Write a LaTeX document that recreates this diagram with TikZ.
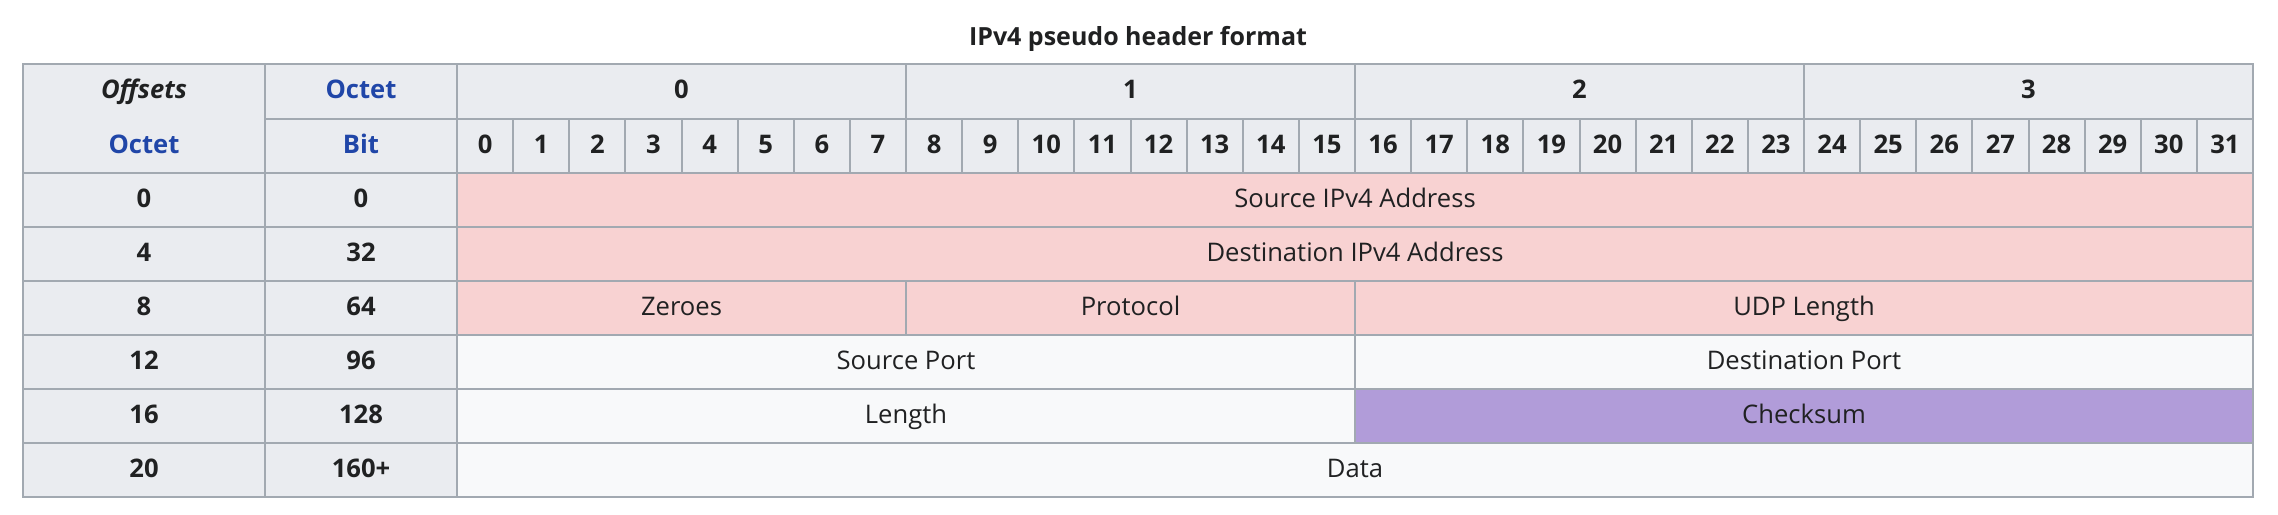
\documentclass[tikz,border=0pt]{standalone}
\usepackage{fontspec}
\setmainfont{Open Sans}
\usepackage{tikz}

\definecolor{hdrbg}{HTML}{EAECF0}
\definecolor{tableline}{HTML}{A2A9B1}
\definecolor{pinkbg}{HTML}{F8D2D2}
\definecolor{purplebg}{HTML}{B19CD9}
\definecolor{plainbg}{HTML}{F8F9FA}
\definecolor{linkblue}{HTML}{2046A8}
\definecolor{textdark}{HTML}{202122}

\tikzset{
    cellbox/.style={draw=tableline, line width=1pt, inner sep=0pt,
        text=textdark, text height=7pt, text depth=0pt,
        font=\fontsize{12.8}{15}\selectfont},
    hdr/.style={cellbox, fill=hdrbg, font=\fontsize{12.8}{15}\selectfont\bfseries},
    field/.style={cellbox, fill=#1}
}

% cell from (x1,y1) to (x2,y2), in pixels of the picture
\newcommand{\tcell}[7]{%
    \node[#6, minimum width={((#4)-(#2))*0.5pt}, minimum height={((#5)-(#3))*0.5pt}]
        (#1) at ({((#2)+(#4))/2},{((#3)+(#5))/2}) {#7};}
% field from bit #2 to bit #3 in data row #4
\newcommand{\fld}[6]{%
    \tcell{#1}{457+56.125*#2}{173+54*#4}{457+56.125*#3}{227+54*#4}{field=#5}{#6}}

\begin{document}
\begin{tikzpicture}[x=0.5pt,y=-0.5pt]
    \useasboundingbox (0,0) rectangle (2278,514);

    \node[font=\fontsize{12.5}{15}\selectfont\bfseries, text=textdark] (title) at (1138,39) {IPv4 pseudo header format};

    % header
    \tcell{offs}{23}{64}{265}{173}{hdr}{}
    \node[font=\fontsize{12.8}{15}\selectfont\bfseries\itshape, text=textdark,
        text height=7pt, text depth=0pt, inner sep=0pt] (offslbl) at (144,91) {Offsets};
    \node[font=\fontsize{12.8}{15}\selectfont\bfseries, text=linkblue,
        text height=7pt, text depth=0pt, inner sep=0pt] (octlbl) at (144,146) {Octet};
    \tcell{octhd}{265}{64}{457}{119}{hdr,text=linkblue}{Octet}
    \tcell{bithd}{265}{119}{457}{173}{hdr,text=linkblue}{Bit}
    \foreach \o in {0,...,3}
        \tcell{oct\o}{457+56.125*8*\o}{64}{457+56.125*(8*\o+8)}{119}{hdr}{\o};
    \foreach \b in {0,...,31}
        \tcell{bit\b}{457+56.125*\b}{119}{457+56.125*(\b+1)}{173}{hdr}{\b};

    % offsets
    \foreach \r/\s [count=\i from 0] in {0/0,4/32,8/64,12/96,16/128,20/160+} {
        \tcell{ro\i}{23}{173+54*\i}{265}{227+54*\i}{hdr}{\r}
        \tcell{rb\i}{265}{173+54*\i}{457}{227+54*\i}{hdr}{\s}
    }

    % fields
    \fld{srcip}{0}{32}{0}{pinkbg}{Source IPv4 Address}
    \fld{dstip}{0}{32}{1}{pinkbg}{Destination IPv4 Address}
    \fld{zero}{0}{8}{2}{pinkbg}{Zeroes}
    \fld{proto}{8}{16}{2}{pinkbg}{Protocol}
    \fld{udplen}{16}{32}{2}{pinkbg}{UDP Length}
    \fld{srcport}{0}{16}{3}{plainbg}{Source Port}
    \fld{dstport}{16}{32}{3}{plainbg}{Destination Port}
    \fld{len}{0}{16}{4}{plainbg}{Length}
    \fld{csum}{16}{32}{4}{purplebg}{Checksum}
    \fld{data}{0}{32}{5}{plainbg}{Data}
\end{tikzpicture}
\end{document}
